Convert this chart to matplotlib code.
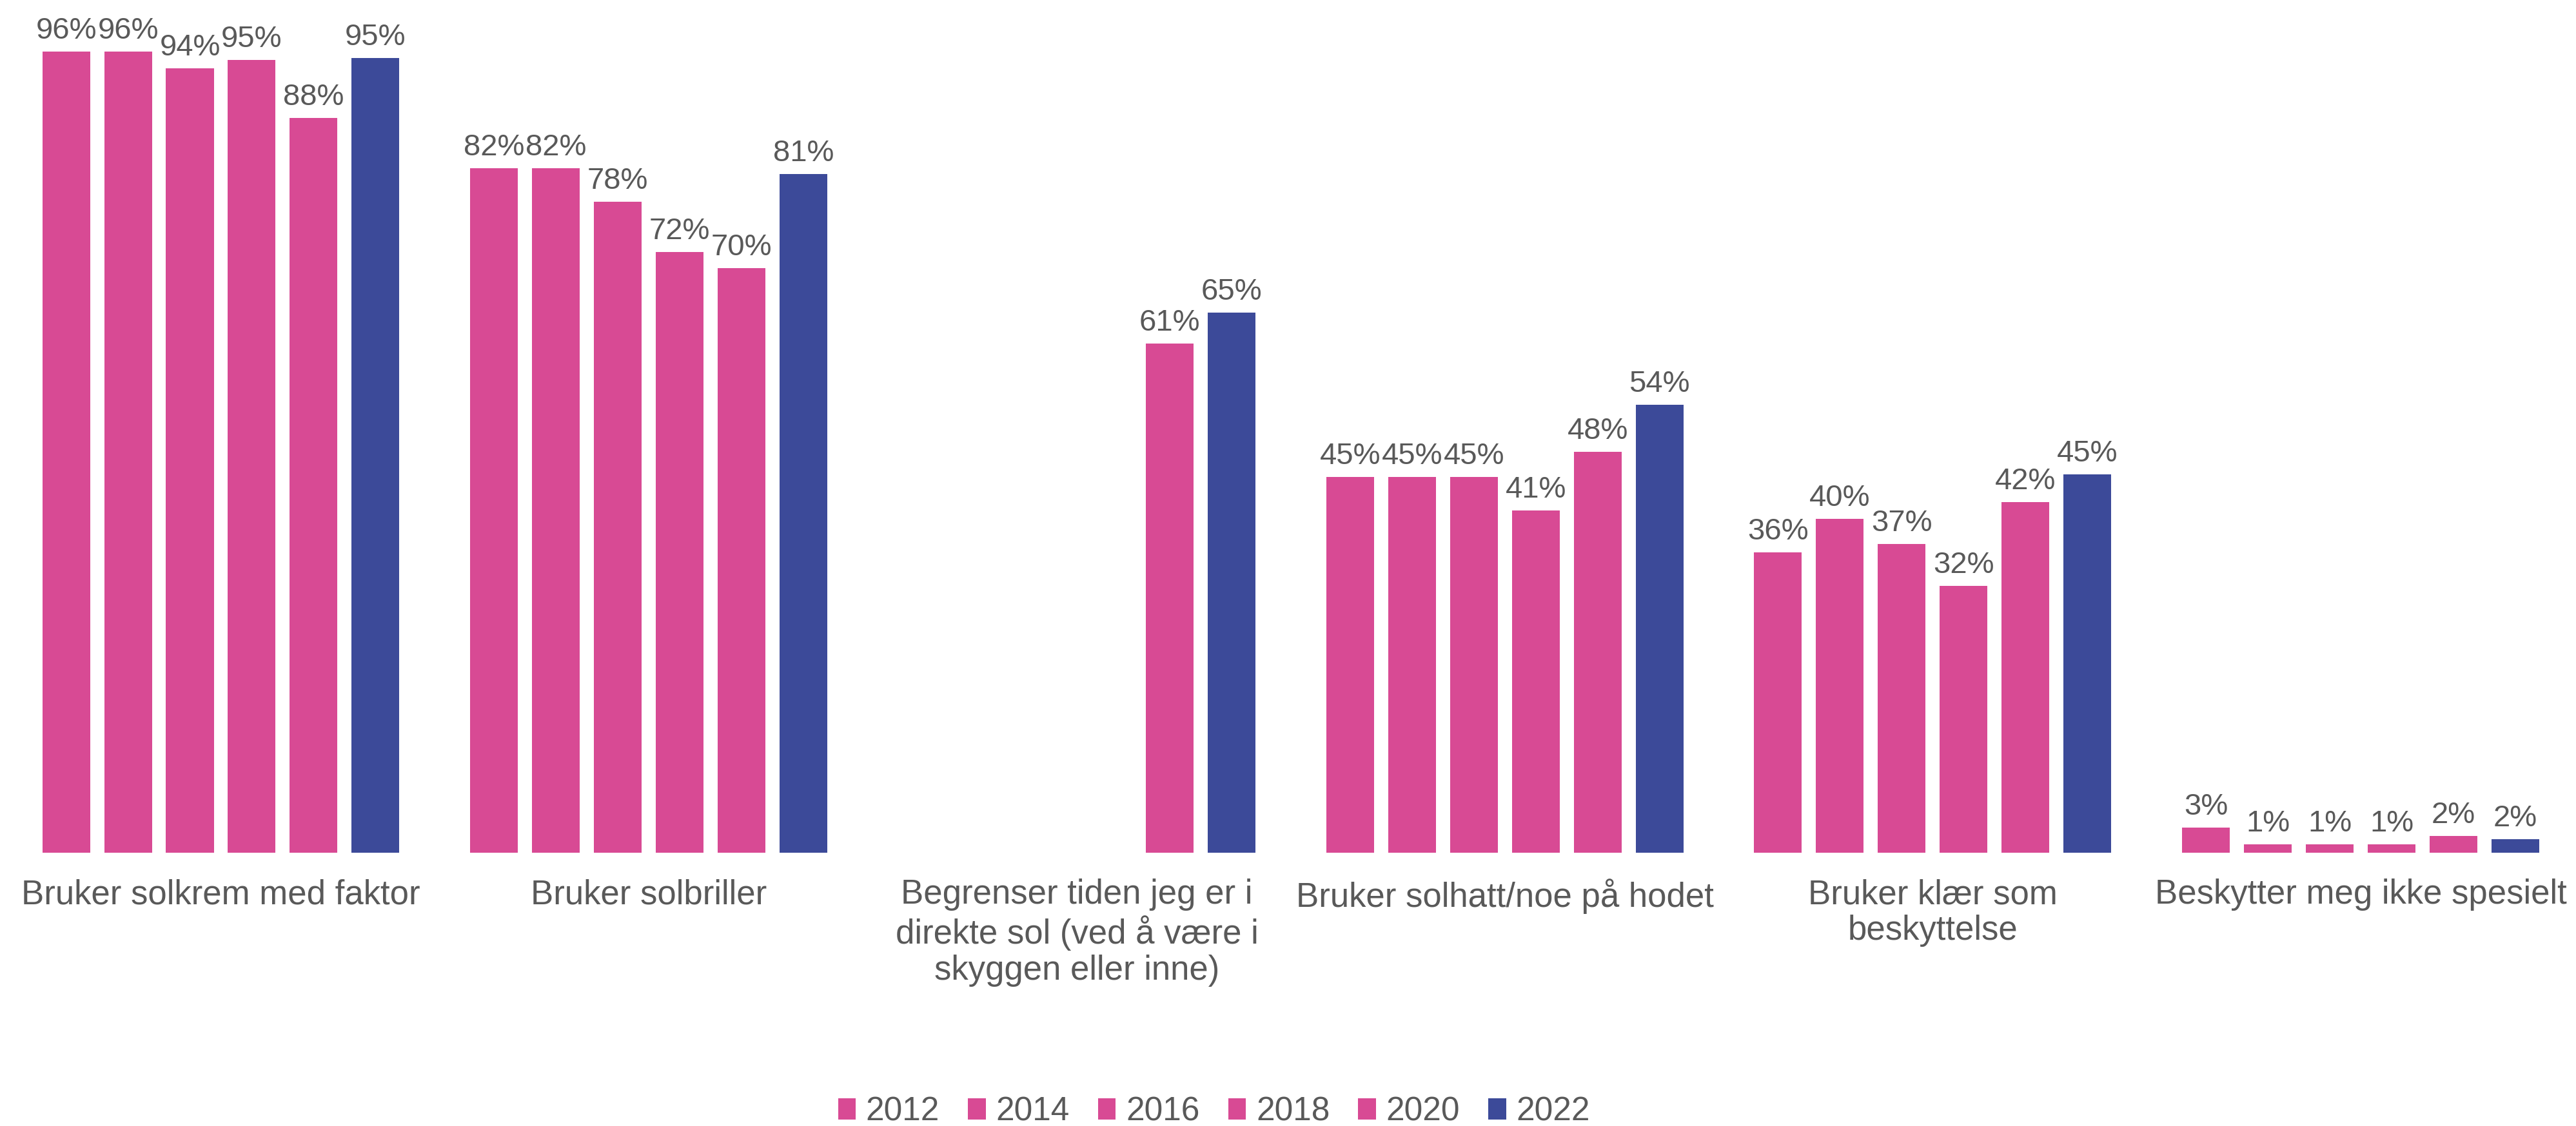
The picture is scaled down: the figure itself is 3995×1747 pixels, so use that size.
import numpy as np
import matplotlib.pyplot as plt

plt.rcParams['font.family'] = ['Liberation Sans', 'DejaVu Sans']

categories = [
    "Bruker solkrem med faktor",
    "Bruker solbriller",
    "Begrenser tiden jeg er i\ndirekte sol (ved å være i\nskyggen eller inne)",
    "Bruker solhatt/noe på hodet",
    "Bruker klær som\nbeskyttelse",
    "Beskytter meg ikke spesielt",
]
years = ["2012", "2014", "2016", "2018", "2020", "2022"]

# percent per year, nan = not asked that year
v2012 = [96, 82, np.nan, 45, 36, 3]
v2014 = [96, 82, np.nan, 45, 40, 1]
v2016 = [94, 78, np.nan, 45, 37, 1]
v2018 = [95, 72, np.nan, 41, 32, 1]
v2020 = [88, 70, 61, 48, 42, 2]
v2022 = [95.2, 81.3, 64.7, 53.7, 45.3, 1.6]
series = [v2012, v2014, v2016, v2018, v2020, v2022]

pink = '#D84A94'
blue = '#3C4A99'
colors = [pink] * 5 + [blue]
text_col = '#595959'

fig = plt.figure(figsize=(39.95, 17.47), dpi=100)
ax = fig.add_axes([0, 0.2427, 1, 0.7413])

x = np.arange(len(categories))
step = 0.1446
width = 0.1115
for i, (yr, vals) in enumerate(zip(years, series)):
    pos = x + (i - 2.5) * step
    vals = np.array(vals, dtype=float)
    bars = ax.bar(pos, vals, width=width, color=colors[i], label=yr)
    for p, v in zip(pos, vals):
        if np.isnan(v):
            continue
        ax.annotate(f"{v:.0f}%", (p, v), xytext=(0, 14.4), textcoords='offset points',
                    ha='center', va='baseline', fontsize=34, color=text_col)

ax.set_xlim(-0.516, 5.503)
ax.set_ylim(0, 100)
ax.set_xticks(x)
ax.set_xticklabels(categories, fontsize=38, color=text_col, linespacing=1.15)
ax.tick_params(axis='x', length=0, pad=29)
ax.set_yticks([])
for s in ax.spines.values():
    s.set_visible(False)

fig.legend(loc='center', bbox_to_anchor=(0.4713, 0.0125), ncol=6, frameon=False,
           fontsize=37, labelcolor=text_col, handlelength=0.53, handleheight=0.59,
           handletextpad=0.31, columnspacing=0.86, borderpad=0, borderaxespad=0)

fig.savefig('out.png', dpi=100)
